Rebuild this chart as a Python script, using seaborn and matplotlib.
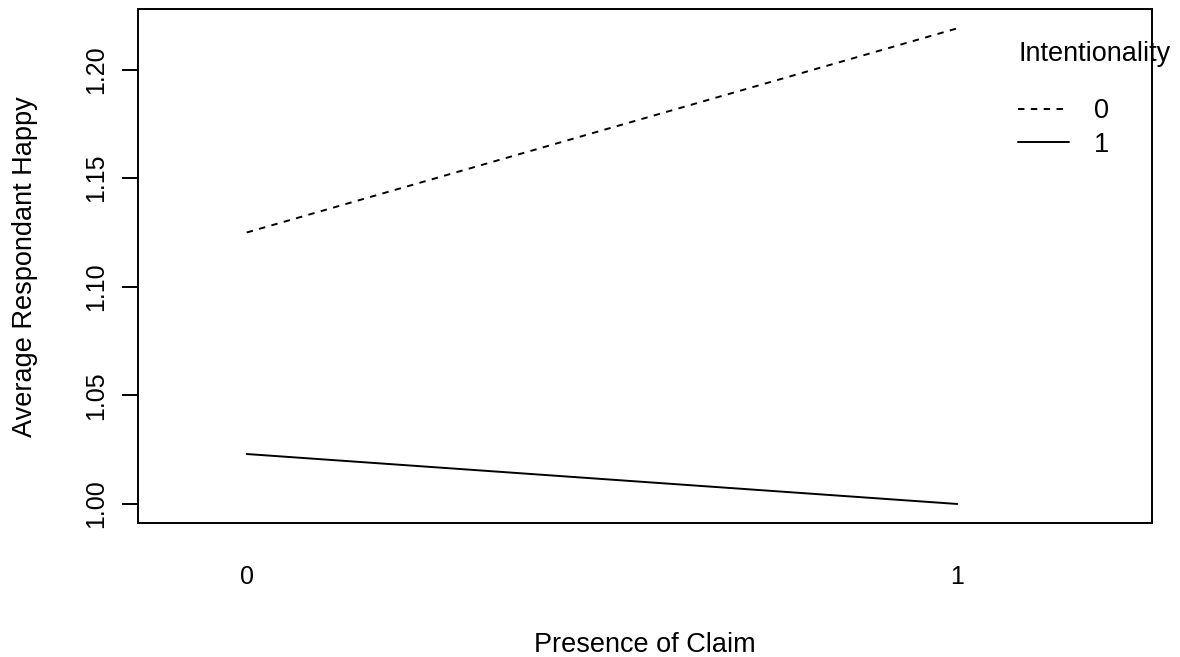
import matplotlib
matplotlib.use("Agg")
import matplotlib.pyplot as plt
import seaborn as sns
import pandas as pd

# Cell means: average happiness by presence of claim and intentionality
claim = [0, 1, 0, 1]
intentionality = ["0", "0", "1", "1"]
avg_happy = [1.125, 1.219, 1.023, 1.000]

y_ticks = [1.00, 1.05, 1.10, 1.15, 1.20]
y_tick_labels = ["1.00", "1.05", "1.10", "1.15", "1.20"]
x_ticks = [0, 1]
x_tick_labels = ["0", "1"]

df = pd.DataFrame({"Presence of Claim": claim,
                   "Intentionality": intentionality,
                   "Average Respondant Happy": avg_happy})

sns.set_style("white")
plt.rcParams["font.family"] = ["Liberation Sans", "DejaVu Sans"]
plt.rcParams.update({"text.color": "black", "axes.labelcolor": "black",
                     "xtick.color": "black", "ytick.color": "black"})

fig = plt.figure(figsize=(11.8, 6.57), dpi=100)
ax = fig.add_axes([138 / 1180, 1 - 523 / 657, (1152 - 138) / 1180, (523 - 9.3) / 657])

sns.lineplot(data=df, x="Presence of Claim", y="Average Respondant Happy",
             style="Intentionality", style_order=["0", "1"],
             dashes={"0": (3.3, 3.3), "1": ""},
             color="black", linewidth=1.4, legend=False, ax=ax)

# axis ranges with a little padding around the data, R-style
ymin, ymax = min(avg_happy), max(avg_happy)
pad = 0.04 * (ymax - ymin)
ax.set_ylim(ymin - pad, ymax + pad)
ax.set_xlim(-0.153, 1.274)

for s in ax.spines.values():
    s.set_visible(True)
    s.set_color("black")
    s.set_linewidth(1.4)

ax.set_yticks(y_ticks)
ax.set_yticklabels(y_tick_labels, rotation=90, va="center", fontsize=18)
ax.tick_params(axis="y", length=11.5, width=1.4, color="black", pad=10, left=True)
ax.set_xticks(x_ticks)
ax.set_xticklabels(x_tick_labels, fontsize=18)
ax.tick_params(axis="x", length=0, pad=30)

ax.set_xlabel("Presence of Claim", fontsize=19.5)
ax.xaxis.label.set_va("baseline")
ax.xaxis.set_label_coords(0.5, -(652 - 523) / 513.7)
ax.set_ylabel("Average Respondant Happy", fontsize=19.5)
ax.yaxis.label.set_va("center")
ax.yaxis.set_label_coords((25 - 138) / 1014, 0.5)

# legend: line styles for each intentionality level
handles = ax.get_lines()[:2]
leg = ax.legend(handles, ["0", "1"], loc="upper left",
                bbox_to_anchor=(1018 / 1180, 1 - 98 / 657),
                bbox_transform=fig.transFigure, frameon=False,
                fontsize=19.5, handlelength=1.9, handletextpad=0.9,
                labelspacing=0.28, borderpad=0, borderaxespad=0)
fig.text(1018 / 1180, 1 - 61 / 657, "Intentionality", fontsize=19.5,
         ha="left", va="baseline")

fig.savefig("out.png", dpi=100)
